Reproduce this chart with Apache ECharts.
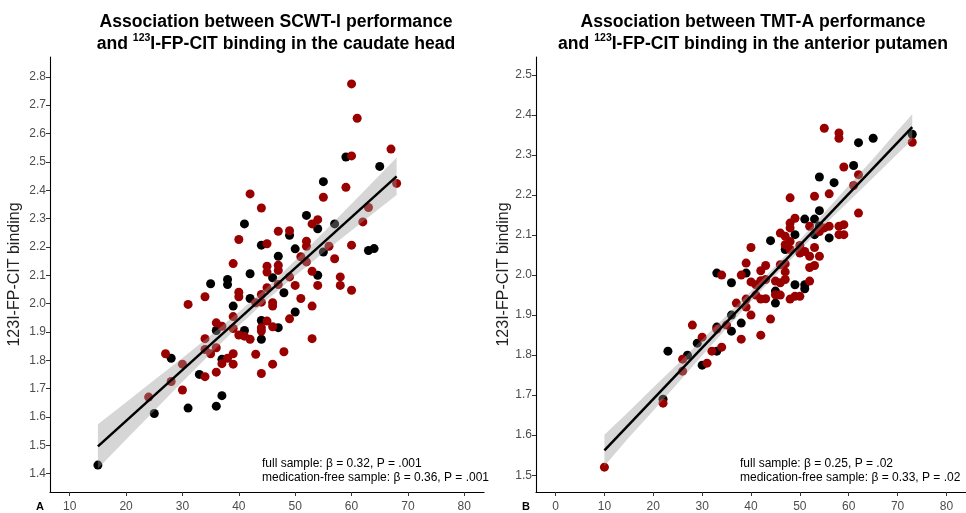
<!DOCTYPE html>
<html><head><meta charset="utf-8">
<script src="https://cdn.jsdelivr.net/npm/echarts@6/dist/echarts.min.js"></script>
<style>html,body{margin:0;padding:0;background:#fff}#c{width:966px;height:513px}</style>
</head><body><div id="c"></div>
<script>
// ---------- Panel A: SCWT-I vs caudate head ----------
const caudateBlackX = [15,25,31,28,33,37,36,36,37,41,39,35,38,38,42,42,44,44,41,44,65,59,55,57,52,54,49,50,47,46,54,55,63,64,48,50,47];
const caudateBlackY = [1.43,1.612,1.631,1.807,1.750,1.675,1.638,1.905,1.803,1.905,1.991,2.070,2.085,2.067,2.105,2.018,1.940,1.874,2.281,2.206,2.484,2.517,2.430,2.281,2.311,2.264,2.241,2.193,2.167,2.091,2.100,2.182,2.187,2.194,2.038,1.970,1.915];
const caudateRedX = [24,28,30,27,30,34,36,34,34,35,36,36,37,38,39,39,37,39,39,40,41,42,31,34,39,40,40,43,44,44,44,44,43,44,45,45,45,42,44,40,45,60,61,67,68,60,59,55,63,62,54,53,49,47,52,52,47,47,49,51,52,53,56,57,58,60,58,60,54,47,50,45,46,46,51,53,49,46,53,48,46];
const caudateRedY = [1.670,1.725,1.695,1.823,1.786,1.742,1.758,1.876,1.838,1.823,1.844,1.932,1.920,1.807,1.823,1.786,1.788,1.954,1.912,1.889,1.885,1.874,1.997,2.024,2.141,2.040,2.024,2.003,2.032,2.005,1.915,1.903,1.821,1.753,1.938,2.132,2.111,2.387,2.337,2.226,2.211,2.775,2.654,2.545,2.424,2.521,2.410,2.375,2.339,2.288,2.296,2.281,2.257,2.255,2.220,2.202,2.135,2.117,2.094,2.165,2.147,2.114,2.202,2.158,2.094,2.206,2.064,2.047,2.064,2.067,2.064,2.056,2.003,1.991,2.018,1.991,1.946,1.918,1.876,1.830,1.786];
const caudateFitX = [15,68];
const caudateFitY = [1.496,2.449];
const caudateBandX = [15,20,25,30,35,40,45,50,55,60,65,68];
const caudateBandLo = [1.418,1.520,1.622,1.724,1.824,1.922,2.013,2.098,2.179,2.258,2.336,2.383];
const caudateBandHi = [1.574,1.652,1.730,1.808,1.888,1.970,2.057,2.152,2.251,2.352,2.454,2.515];
const caudateXTicks = [10,20,30,40,50,60,70,80];
const caudateYTicks = [1.4,1.5,1.6,1.7,1.8,1.9,2.0,2.1,2.2,2.3,2.4,2.5,2.6,2.7,2.8];

// ---------- Panel B: TMT-A vs anterior putamen ----------
const putamenBlackX = [33,39,36,62,65,73,61,54,57,54,51,53,54,56,53,49,44,47,45,49,51,51,22,23,27,29,30,33,33,36,36,38,45];
const putamenBlackY = [2.005,2.005,1.981,2.331,2.342,2.352,2.274,2.245,2.231,2.161,2.140,2.140,2.123,2.093,2.101,2.101,2.086,2.064,1.960,1.976,1.976,1.966,1.69,1.81,1.80,1.83,1.775,1.87,1.81,1.86,1.90,1.88,1.93];
const putamenRedX = [40,39,34,38,40,55,58,58,73,59,62,61,56,53,48,62,49,48,48,52,55,56,59,58,59,58,54,46,47,48,47,48,50,50,53,51,52,54,53,52,42,43,41,42,43,46,47,47,46,45,47,45,52,49,50,43,10,22,26,26,28,30,31,32,33,34,35,37,38,39,39,40,41,42,42,44,46,48];
const putamenRedY = [2.069,2.030,2.000,2.000,1.983,2.367,2.355,2.342,2.332,2.270,2.251,2.224,2.203,2.197,2.193,2.155,2.142,2.130,2.118,2.122,2.118,2.122,2.126,2.122,2.101,2.101,2.109,2.105,2.097,2.084,2.076,2.064,2.074,2.055,2.069,2.059,2.047,2.047,2.024,2.019,2.011,2.024,1.976,1.986,1.989,2.026,2.028,2.008,1.981,1.985,1.989,1.951,1.985,1.947,1.947,1.941,1.52,1.68,1.79,1.76,1.875,1.845,1.78,1.81,1.865,1.82,1.875,1.93,1.84,1.94,1.92,1.90,1.95,1.85,1.94,1.89,1.95,1.94];
const putamenFitX = [10,73];
const putamenFitY = [1.562,2.370];
const putamenBandX = [10,15,20,25,30,35,40,45,50,55,60,65,70,73];
const putamenBandLo = [1.523,1.594,1.661,1.730,1.799,1.867,1.934,1.999,2.062,2.125,2.184,2.243,2.303,2.338];
const putamenBandHi = [1.601,1.659,1.719,1.778,1.839,1.899,1.960,2.023,2.088,2.156,2.224,2.291,2.361,2.402];
const putamenXTicks = [0,10,20,30,40,50,60,70,80];
const putamenYTicks = [1.5,1.6,1.7,1.8,1.9,2.0,2.1,2.2,2.3,2.4,2.5];

const FONT = 'Liberation Sans, Arial, sans-serif';
const RED = '#990000';

function pairs(xs, ys){ return xs.map((x,i)=>[x, ys[i]]); }

function xAxisCfg(idx, min, max, ticks){
  return {type:'value', gridIndex:idx, min, max,
    axisLine:{show:true, onZero:false, lineStyle:{color:'#000', width:1.1}},
    axisTick:{show:true, customValues:ticks, length:4, lineStyle:{color:'#333'}},
    axisLabel:{customValues:ticks, color:'#4d4d4d', fontSize:12, fontFamily:FONT, margin:9},
    splitLine:{show:false}};
}
function yAxisCfg(idx, min, max, ticks, gap){
  return {type:'value', gridIndex:idx, min, max,
    name:'123I-FP-CIT binding', nameLocation:'middle', nameRotate:90, nameGap:gap,
    nameTextStyle:{color:'#222', fontSize:16, fontFamily:FONT},
    axisLine:{show:true, onZero:false, lineStyle:{color:'#000', width:1.1}},
    axisTick:{show:true, customValues:ticks, length:4, lineStyle:{color:'#333'}},
    axisLabel:{customValues:ticks, color:'#4d4d4d', fontSize:12, fontFamily:FONT, margin:4,
      formatter:v=>Number(v).toFixed(1)},
    splitLine:{show:false}};
}
function band(idx, xs, lo, hi){
  return {type:'custom', xAxisIndex:idx, yAxisIndex:idx, z:3, silent:true,
    data: xs.map((x,i)=>[x, lo[i], hi[i]]),
    encode:{x:0, y:[1,2]},
    renderItem:(params, api)=>{
      if (params.dataIndex !== 0) return null;
      const pts = [];
      for (let i=0;i<xs.length;i++) pts.push(api.coord([xs[i], hi[i]]));
      for (let i=xs.length-1;i>=0;i--) pts.push(api.coord([xs[i], lo[i]]));
      return {type:'polygon', shape:{points:pts}, style:{fill:'rgba(153,153,153,0.4)'}};
    }};
}
function scatter(idx, xs, ys, color){
  return {type:'scatter', xAxisIndex:idx, yAxisIndex:idx, z:2, silent:true,
    symbolSize:9, itemStyle:{color, opacity:1}, data:pairs(xs, ys)};
}
function fit(idx, xs, ys){
  return {type:'line', xAxisIndex:idx, yAxisIndex:idx, z:4, silent:true, symbol:'none',
    lineStyle:{color:'#000', width:2.5}, data:pairs(xs, ys)};
}

const titleRich = {
  b:{fontSize:17.6, fontWeight:'bold', fontFamily:FONT, fill:'#000', lineHeight:22},
  s:{fontSize:10.5, fontWeight:'bold', fontFamily:FONT, fill:'#000', lineHeight:22, verticalAlign:'top'}
};

const chart = echarts.init(document.getElementById('c'), null, {renderer:'canvas'});
chart.setOption({
  animation:false,
  backgroundColor:'#fff',
  grid:[
    {left:50, top:57, width:434, height:436},
    {left:536, top:57, width:431, height:436}
  ],
  xAxis:[xAxisCfg(0, 6.5, 83.5, caudateXTicks), xAxisCfg(1, -4, 84, putamenXTicks)],
  yAxis:[yAxisCfg(0, 1.335, 2.87, caudateYTicks, 27), yAxisCfg(1, 1.458, 2.545, putamenYTicks, 20)],
  series:[
    scatter(0, caudateBlackX, caudateBlackY, '#000'),
    scatter(0, caudateRedX, caudateRedY, RED),
    band(0, caudateBandX, caudateBandLo, caudateBandHi),
    fit(0, caudateFitX, caudateFitY),
    scatter(1, putamenBlackX, putamenBlackY, '#000'),
    scatter(1, putamenRedX, putamenRedY, RED),
    band(1, putamenBandX, putamenBandLo, putamenBandHi),
    fit(1, putamenFitX, putamenFitY)
  ],
  graphic:[
    {type:'text', x:276, y:11, style:{text:'{b|Association between SCWT-I performance}\n{b|and }{s|123}{b|I-FP-CIT binding in the caudate head}',
      align:'center', fontFamily:FONT, rich:titleRich}},
    {type:'text', x:753, y:11, style:{text:'{b|Association between TMT-A performance}\n{b|and }{s|123}{b|I-FP-CIT binding in the anterior putamen}',
      align:'center', fontFamily:FONT, rich:titleRich}},
    {type:'text', x:262, y:456, style:{text:'full sample: β = 0.32, P = .001\nmedication-free sample: β = 0.36, P = .001',
      fontSize:12, lineHeight:14.5, fontFamily:FONT, fill:'#000'}},
    {type:'text', x:740, y:456, style:{text:'full sample: β = 0.25, P = .02\nmedication-free sample: β = 0.33, P = .02',
      fontSize:12, lineHeight:14.5, fontFamily:FONT, fill:'#000'}},
    {type:'text', x:36, y:501, style:{text:'A', fontSize:11, fontWeight:'bold', fontFamily:FONT, fill:'#000'}},
    {type:'text', x:522, y:501, style:{text:'B', fontSize:11, fontWeight:'bold', fontFamily:FONT, fill:'#000'}}
  ]
});
</script></body></html>
